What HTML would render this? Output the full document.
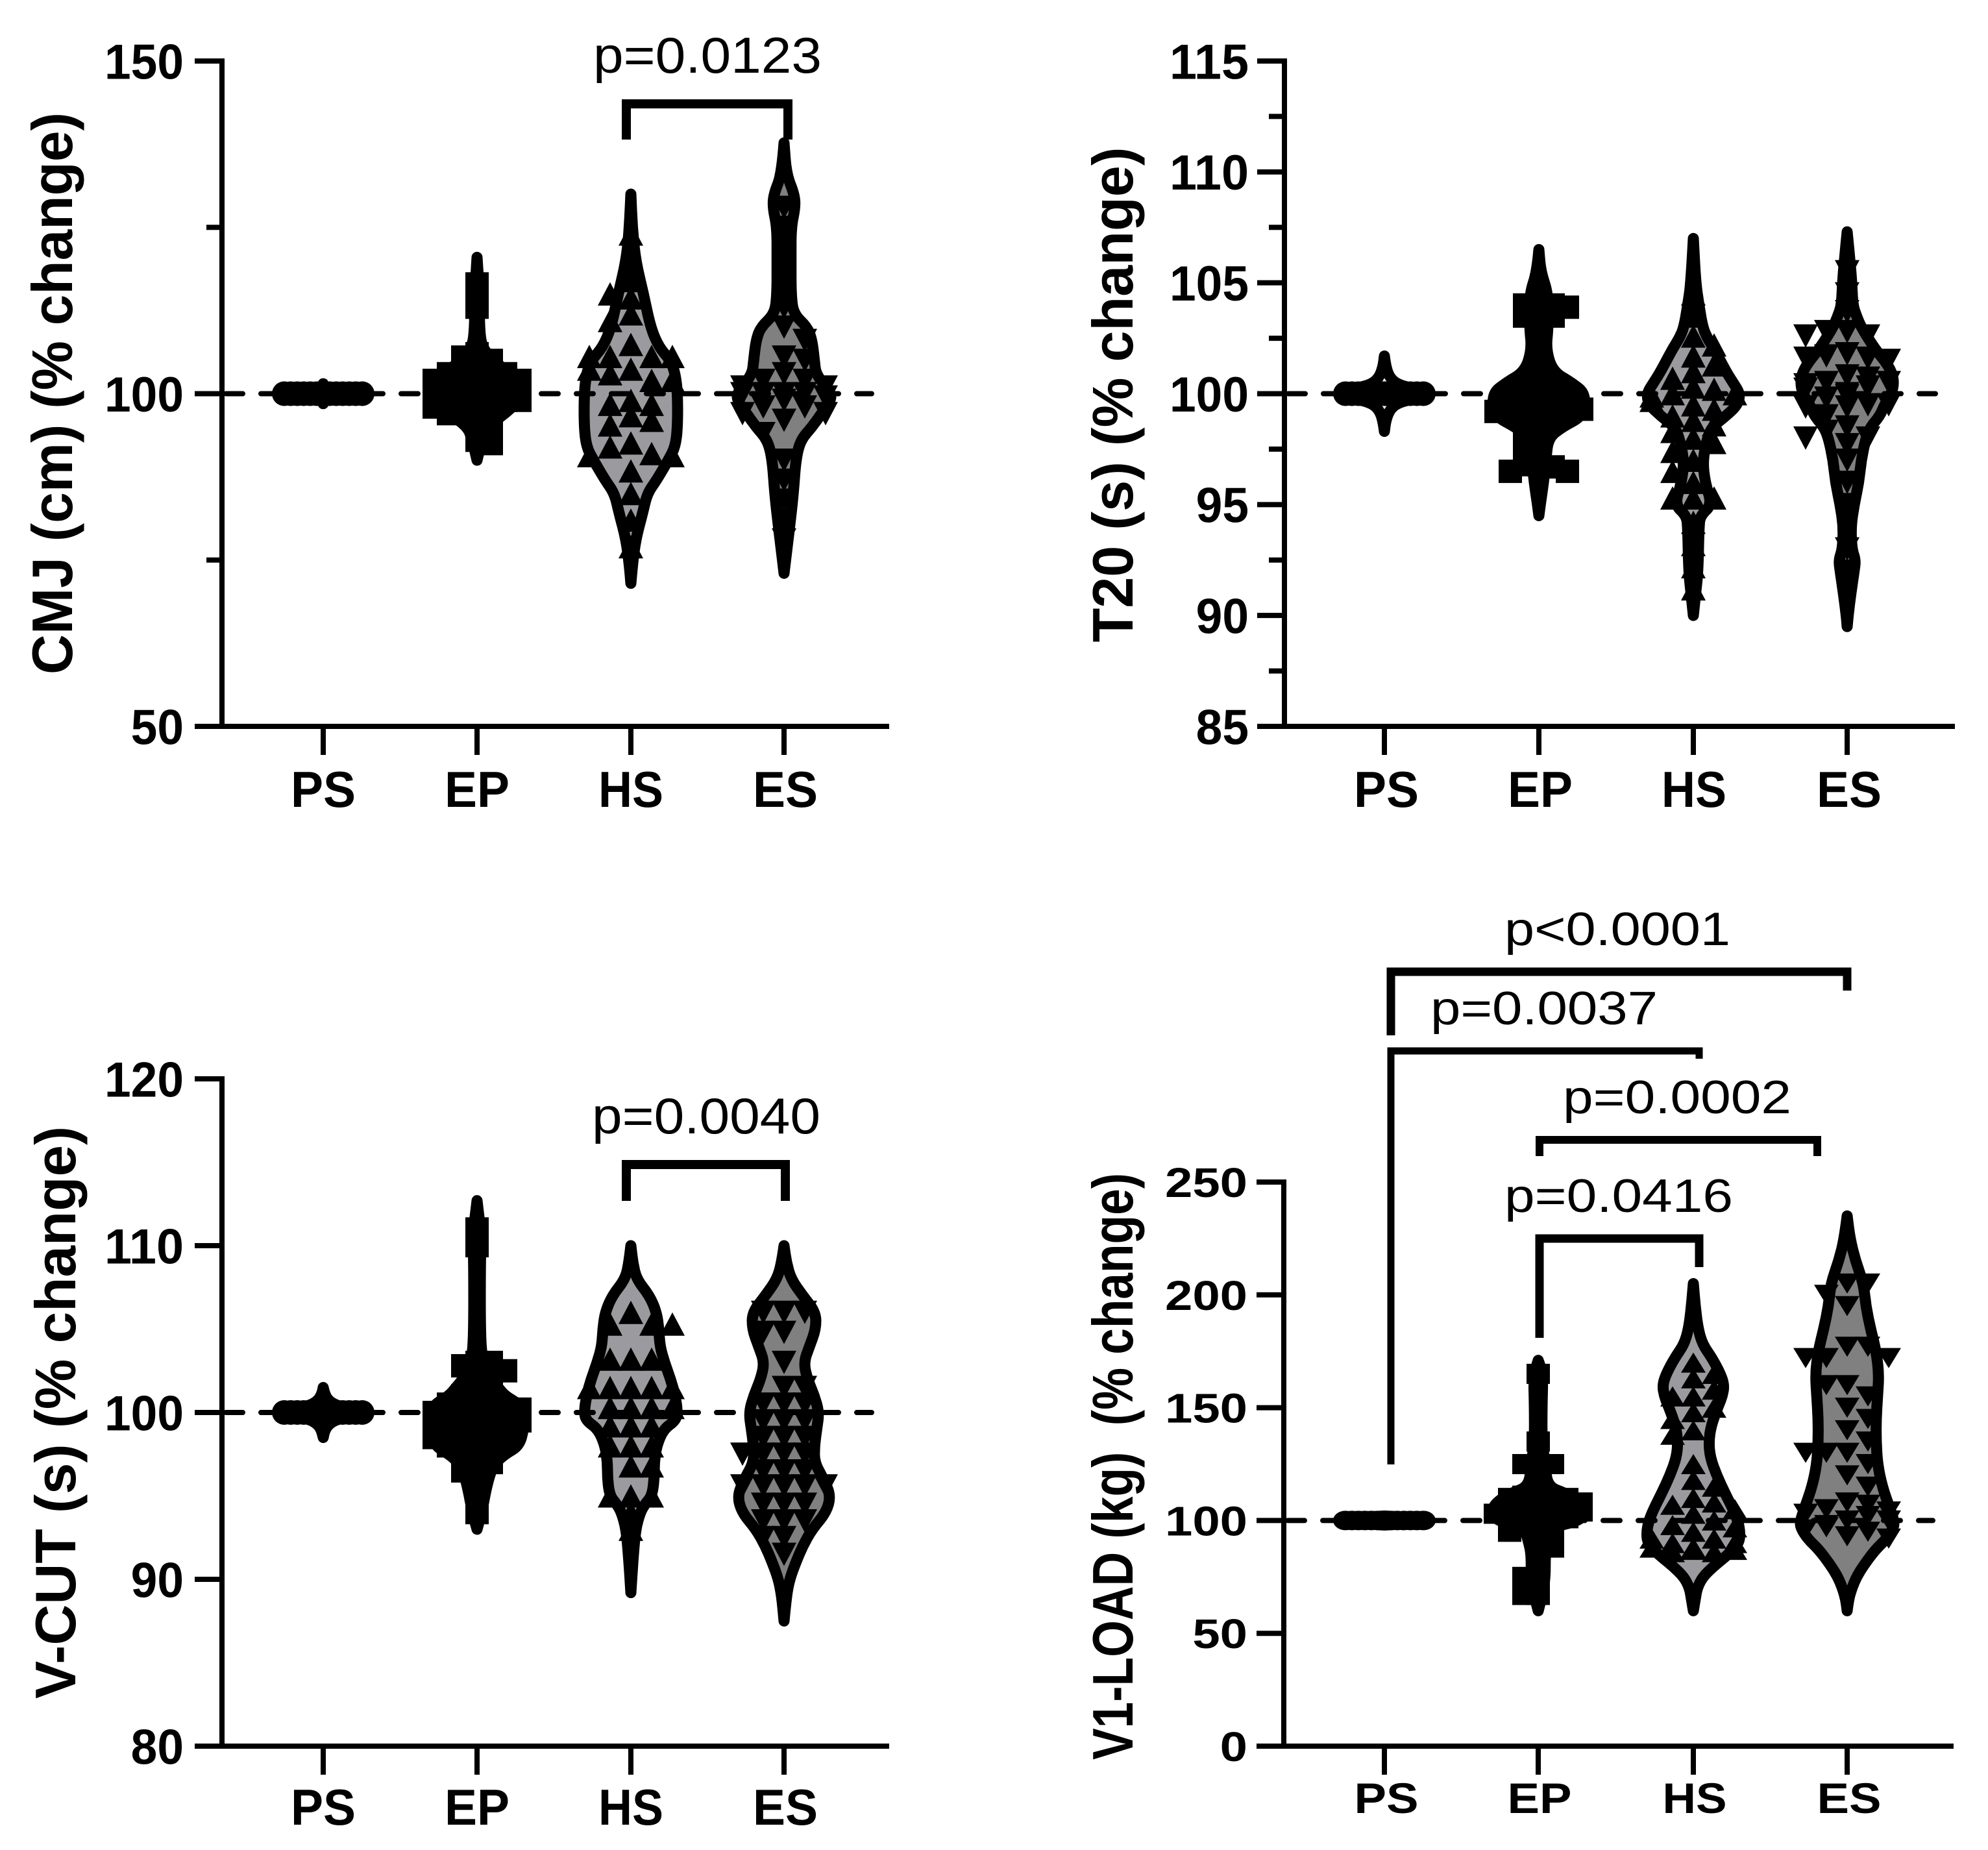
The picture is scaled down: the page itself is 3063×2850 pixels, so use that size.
<!DOCTYPE html>
<html lang="en">
<head>
<meta charset="utf-8">
<title>Violin plots of percent change</title>
<style>
html,body{margin:0;padding:0;background:#fff;}
svg{display:block;}
text{font-family:"Liberation Sans",sans-serif;fill:#000;}
.bold{font-weight:700;}
.br{fill:none;stroke:#000;stroke-linejoin:miter;stroke-linecap:butt;}
</style>
</head>
<body>
<svg id="figure" xmlns="http://www.w3.org/2000/svg" width="3063" height="2850" viewBox="0 0 3063 2850">
<rect width="3063" height="2850" fill="#fff"/>

<g>
<path class="br" stroke-width="14" d="M965 215V160H1214V215"/>
<text x="1090" y="112" font-size="78" text-anchor="middle" textLength="352" lengthAdjust="spacingAndGlyphs">p=0.0123</text>
</g>
<g>
<path class="br" stroke-width="14" d="M965 1850V1794H1210V1850"/>
<text x="1088" y="1746" font-size="78" text-anchor="middle" textLength="352" lengthAdjust="spacingAndGlyphs">p=0.0040</text>
</g>
<g>
<path class="br" stroke-width="13" d="M2143 1595V1497H2846V1526"/>
<text x="2492" y="1456" font-size="72" text-anchor="middle" textLength="348" lengthAdjust="spacingAndGlyphs">p&lt;0.0001</text>
<path class="br" stroke-width="11" d="M2143 2256V1619H2618V1631"/>
<text x="2379" y="1578" font-size="72" text-anchor="middle" textLength="350" lengthAdjust="spacingAndGlyphs">p=0.0037</text>
<path class="br" stroke-width="12" d="M2372 1781V1756H2800V1781"/>
<text x="2584" y="1715" font-size="72" text-anchor="middle" textLength="352" lengthAdjust="spacingAndGlyphs">p=0.0002</text>
<path class="br" stroke-width="13" d="M2372 2061V1908H2618V1952"/>
<text x="2494" y="1867" font-size="72" text-anchor="middle" textLength="352" lengthAdjust="spacingAndGlyphs">p=0.0416</text>
</g>
</svg>
<script>
// ---------- shared categories ----------
const categories = ["PS","EP","HS","ES"];

// ---------- axis ticks ----------
const cmjTicks = [50,100,150];
const cmjMinorTicks = [75,125];
const t20Ticks = [85,90,95,100,105,110,115];
const t20MinorTicks = [87.5,92.5,97.5,102.5,107.5,112.5];
const vcutTicks = [80,90,100,110,120];
const vcutMinorTicks = [];
const v1loadTicks = [0,50,100,150,200,250];
const v1loadMinorTicks = [];

// ---------- CMJ ----------
const cmjPsValues = [100,100,100,100,100,100,100,100,100,100,100,100,100,100];
const cmjPsLevels = [98.5,99.4,99.8,100,100.2,100.6,101.5];
const cmjPsDensity = [0,.03,.6,1,.6,.03,0];
const cmjEpValues = [116.5,114.5,113,106,105.5,105,104,104,103,103,103,102,102,102,102,101,101,101,100.5,100,100,100,100,100,99,99,99,99,98,98,98,97,97,96,95,94,93,92.5];
const cmjEpLevels = [120.5,115,110,107,105,103,101,100,99,97,95,93,90];
const cmjEpDensity = [0,.05,.05,.1,.35,.7,1,1,.9,.6,.2,.1,0];
const cmjHsValues = [124,120,117,114.4,115,112,111,107.4,105.6,105.6,105.6,105.6,103.7,103.7,103,102,102,99,98.4,98.4,96.7,96,95.3,92.6,92,91,90.7,90.7,88.4,85,81,77];
const cmjHsLevels = [130,125,120,115,110,107,105,103,100,95,92,90,87,85,82,78,74,71.5];
const cmjHsDensity = [0,.03,.1,.27,.42,.6,.85,.95,1,1,.95,.8,.55,.35,.25,.1,.03,0];
const cmjEsValues = [128,125,122,119,116,113,110,108,105.5,105,103,102,102,101,101,100,100,100,100,99.5,99,98,98,97,97,96,94,90,87,84,81,78];
const cmjEsLevels = [137.7,133,130,128,125,120,115,112,110,108,105,103,101,100,99,97,95,93,90,85,80,76,73];
const cmjEsDensity = [0,.05,.22,.24,.15,.15,.15,.2,.5,.6,.65,.68,.9,1,1,.8,.6,.35,.25,.2,.12,.05,0];

// ---------- T20 ----------
const t20PsValues = [100,100,100,100,100,100,100,100,100,100,100,100,100,100];
const t20PsLevels = [98.3,98.8,99.3,99.6,99.8,100,100.2,100.4,100.7,101.2,101.7];
const t20PsDensity = [0,.03,.12,.3,.7,1,.7,.3,.12,.03,0];
const t20EpValues = [104.2,104,104,103.9,103.6,103.5,103.5,102.8,102,101.5,100.5,100.2,100,100,100,99.8,99.5,99.5,99.5,99.4,99.4,99.3,99.2,99,98.7,98.3,98,97.5,97.3,96.8,96.8,96.7,96.5,96.5];
const t20EpLevels = [106.5,105.5,104.5,103,102,101,100.5,100,99,98.5,98,97,96,95,94.5];
const t20EpDensity = [0,.04,.2,.2,.15,.3,.7,1,.95,.5,.2,.15,.1,.03,0];
const t20HsValues = [104.5,103.5,102.6,102.2,101.7,101.3,101,100.7,100.3,100.2,100,100,99.9,99.7,99.5,99.3,99,98.8,98.6,98.3,98,97.8,97.4,97,96.5,96,95.3,95.3,95.3,94.2,93.2,92.2,91.2];
const t20HsLevels = [107,105,104,103,102.5,102,101,100.5,100,99.5,99,98.5,98,97,96,95,94.5,94,92,91,90];
const t20HsDensity = [0,.05,.12,.2,.3,.45,.7,.85,1,.95,.7,.4,.3,.2,.25,.4,.15,.12,.1,.05,0];
const t20EsValues = [105.5,104.5,103.7,102.8,102.8,102.6,102.6,101.8,101.7,101.6,101.6,101.5,100.8,100.7,100.5,100.5,100.4,100.3,100.2,100,99.9,99.8,99.5,99.5,99.4,99.4,99,98.5,98.3,98,98,97.7,97,96,95,93,92];
const t20EsLevels = [107.3,106,105,104,103.5,103,102,101.5,101,100.5,100,99.5,99,98.5,98,97,96,95,94,93,92.5,92,91,90,89.5];
const t20EsDensity = [0,.06,.1,.12,.2,.3,.6,.8,.95,1,.95,.8,.7,.5,.4,.3,.25,.15,.08,.1,.18,.15,.08,.02,0];

// ---------- V-CUT ----------
const vcutPsValues = [100,100,100,100,100,100,100,100,100,100,100,100,100,100];
const vcutPsLevels = [98.5,98.9,99.3,99.6,99.8,100,100.2,100.4,100.7,101.1,101.5];
const vcutPsDensity = [0,.03,.12,.3,.7,1,.7,.3,.12,.03,0];
const vcutEpValues = [111,110,103,103,102.8,102.5,102.3,102,101.5,101,101,100.8,100.5,100.3,100.2,100.2,100.2,100.2,100,100,100,100,99.8,99.5,99.5,99.5,99.5,99.5,99,99,99,99,99,98.8,98.5,98.3,98,98,98,97.5,97.3,97,96.8,96.5,95,94];
const vcutEpLevels = [112.7,111.5,110.5,109.5,104,103,102,101.5,101,100.5,100,99,98,97.5,97,96.5,95.5,94,93];
const vcutEpDensity = [0,.05,.1,.07,.07,.15,.3,.45,.6,.9,1,1,.9,.6,.4,.3,.2,.1,0];
const vcutHsValues = [106,105.3,105.3,105.3,103.2,103.2,103.2,101.5,101.5,101.5,101.5,101.5,100.3,100.3,100.3,100.3,99.2,99.2,99.2,98,98,98,96.8,96.8,95,95,95,94,93];
const vcutHsLevels = [110,109,108,107,106,105,104,103,102,101,100,99.5,99,98,97,96,95,94.5,94,93,91,89.2];
const vcutHsDensity = [0,.04,.12,.4,.55,.6,.62,.72,.85,.95,1,.95,.7,.55,.5,.5,.45,.3,.2,.1,.04,0];
const vcutEsValues = [106,106,106,104.8,104.8,103,101.5,101.5,100.5,100.5,100.5,99.5,99.5,99.5,98.5,98.5,98.5,97.5,97.5,97.5,97.5,96.5,96.5,96.5,95.6,95.6,95.6,95.6,95.6,94.5,94.5,94.5,93.5,93.5,93.5,92.5,92.5,91.5];
const vcutEsLevels = [110,109,108,107,106,105,104,103,102,101,100,99,98,97,96,95,94,93,92,91,90,89,87.5];
const vcutEsDensity = [0,.05,.15,.4,.68,.68,.55,.42,.5,.65,.75,.7,.65,.65,.85,1,.9,.6,.4,.25,.12,.05,0];

// ---------- V1-LOAD ----------
const v1loadPsValues = [100,100,100,100,100,100,100,100,100,100,100,100,100,100];
const v1loadPsLevels = [98,99,100,101,102];
const v1loadPsDensity = [0,.9,1,.9,0];
const v1loadEpValues = [165,135,125,125,125,112,111,110,110,110,108,108,107,106,105,105,104,104,103,103,102,101,100,98,97,96,95,93,91,88,85,75,75,67,67];
const v1loadEpLevels = [171,165,150,135,125,115,112,108,104,100,97,90,85,75,68,60];
const v1loadEpDensity = [0,.1,.08,.08,.15,.2,.6,.9,1,.9,.3,.2,.15,.15,.1,0];
const v1loadHsValues = [170,165,163,158,155,155,150,148,145,140,138,125,118,115,110,108,107,105,103,100,98,97,95,92,92,90,90,88,88,87,87,86,86];
const v1loadHsLevels = [205,195,185,178,172,165,160,155,150,142,135,128,120,112,105,100,95,90,85,80,75,70,65,60];
const v1loadHsDensity = [0,.04,.1,.2,.4,.58,.66,.62,.52,.38,.33,.36,.5,.68,.85,.95,1,.98,.75,.45,.2,.08,.04,0];
const v1loadEsValues = [205,205,200,195,177,177,172,172,172,160,160,155,150,145,140,135,130,130,130,125,120,115,108,107,105,104,103,102,100,100,98,97,96,95,93,92];
const v1loadEsLevels = [235,225,215,205,195,185,175,165,155,145,135,125,115,105,100,97,92,87,80,75,70,65,60];
const v1loadEsDensity = [0,.06,.18,.35,.4,.5,.62,.68,.65,.62,.62,.65,.75,.92,1,1,.85,.6,.35,.2,.1,.03,0];

// ---------- panel layout ----------
const NS = "http://www.w3.org/2000/svg";
const fig = document.getElementById("figure");

function mk(parent, tag, attrs){
  const el = document.createElementNS(NS, tag);
  for (const k in attrs) el.setAttribute(k, attrs[k]);
  parent.appendChild(el);
  return el;
}

const panels = [
 {id:"cmj", title:"CMJ (cm) (% change)", ticks:cmjTicks, minor:cmjMinorTicks, min:50, max:150,
  top:94, bottom:1119, axisX:342, right:1370, catX:[498,735,972,1208], labelX:[498,735,972,1210],
  tickRight:283, tickFs:76, tickW:122, xLabelY:1243, xFs:78, labelW:100,
  titleX:111, titleY:606, titleLen:866, refEnd:1343, markH:36, circRy:19,
  violins:[[cmjPsValues,cmjPsLevels,cmjPsDensity],[cmjEpValues,cmjEpLevels,cmjEpDensity],[cmjHsValues,cmjHsLevels,cmjHsDensity],[cmjEsValues,cmjEsLevels,cmjEsDensity]]},
 {id:"t20", title:"T20 (s) (% change)", ticks:t20Ticks, minor:t20MinorTicks, min:85, max:115,
  top:94, bottom:1119, axisX:1979, right:3012, catX:[2133,2371,2609,2846], labelX:[2136,2373,2610,2849],
  tickRight:1924, tickFs:76, tickW:122, xLabelY:1243, xFs:78, labelW:100,
  titleX:1745, titleY:608, titleLen:763, refEnd:2982, markH:36, circRy:19,
  violins:[[t20PsValues,t20PsLevels,t20PsDensity],[t20EpValues,t20EpLevels,t20EpDensity],[t20HsValues,t20HsLevels,t20HsDensity],[t20EsValues,t20EsLevels,t20EsDensity]]},
 {id:"vcut", title:"V-CUT (s) (% change)", ticks:vcutTicks, minor:vcutMinorTicks, min:80, max:120,
  top:1662, bottom:2690, axisX:342, right:1370, catX:[498,735,972,1208], labelX:[498,735,972,1210],
  tickRight:283, tickFs:76, tickW:122, xLabelY:2811, xFs:78, labelW:100,
  titleX:116, titleY:2176, titleLen:882, refEnd:1343, markH:36, circRy:19,
  violins:[[vcutPsValues,vcutPsLevels,vcutPsDensity],[vcutEpValues,vcutEpLevels,vcutEpDensity],[vcutHsValues,vcutHsLevels,vcutHsDensity],[vcutEsValues,vcutEsLevels,vcutEsDensity]]},
 {id:"v1load", title:"V1-LOAD (kg)\u00a0\u00a0(% change)", ticks:v1loadTicks, minor:v1loadMinorTicks, min:0, max:250,
  top:1821, bottom:2690, axisX:1978, right:3010, catX:[2133,2370,2609,2846], labelX:[2136,2372,2611,2849],
  tickRight:1922, tickFs:64, tickW:127, xLabelY:2793, xFs:66, labelW:99,
  titleX:1745, titleY:2259, titleLen:904, refEnd:2978, markH:31, circRy:15,
  violins:[[v1loadPsValues,v1loadPsLevels,v1loadPsDensity],[v1loadEpValues,v1loadEpLevels,v1loadEpDensity],[v1loadHsValues,v1loadHsLevels,v1loadHsDensity],[v1loadEsValues,v1loadEsLevels,v1loadEsDensity]]}
];

const groupStyles = [
 {fill:"#fff",    slotW:10, maxSlot:6, rowGap:4},
 {fill:"#000",    slotW:22, maxSlot:3, rowGap:13},
 {fill:"#9b9b9f", slotW:32, maxSlot:2, rowGap:22},
 {fill:"#808080", slotW:32, maxSlot:2, rowGap:22}
];
const maxHalf = 72;

function swarm(values, st, yOf){
  const placed = [];
  const order = [0];
  for (let k = 1; k <= st.maxSlot; k++){ order.push(-k); order.push(k); }
  return values.map(function(v, i){
    const y = yOf(v);
    const flip = i % 2 === 0 ? 1 : -1;
    let slot = null;
    for (const k0 of order){
      const k = k0 * flip;
      const hit = placed.some(function(p){ return p.k === k && Math.abs(p.y - y) < st.rowGap; });
      if (!hit){ slot = k; break; }
    }
    if (slot === null) slot = order[i % order.length];
    placed.push({k:slot, y:y});
    return {dx:slot * st.slotW, y:y};
  });
}

function smooth(pts){
  let d = "M" + pts[0][0] + " " + pts[0][1];
  for (let i = 1; i < pts.length - 1; i++){
    const mx = (pts[i][0] + pts[i+1][0]) / 2;
    const my = (pts[i][1] + pts[i+1][1]) / 2;
    d += "Q" + pts[i][0] + " " + pts[i][1] + " " + mx + " " + my;
  }
  const last = pts[pts.length-1];
  return d + "L" + last[0] + " " + last[1];
}

panels.forEach(function(p){
  const g = mk(fig, "g", {});
  
  
  const yOf = function(v){ return p.bottom - (v - p.min) / (p.max - p.min) * (p.bottom - p.top); };
  const y100 = yOf(100);

  p.violins.forEach(function(vv, gi){
    const cx = p.catX[gi];
    const st = groupStyles[gi];
    const name = categories[gi].toLowerCase();
    const vg = mk(g, "g", {});
    
    
    const leftPts = vv[1].map(function(l, i){ return [cx - vv[2][i] * maxHalf, yOf(l)]; });
    const rightPts = vv[1].map(function(l, i){ return [cx + vv[2][i] * maxHalf, yOf(l)]; }).reverse();
    const d = smooth(leftPts) + smooth(rightPts).replace(/^M[^Q]*/, "L" + rightPts[0][0] + " " + rightPts[0][1]) + "Z";
    const path = mk(vg, "path", {d:d, fill:st.fill, stroke:"#000", "stroke-width":17, "stroke-linejoin":"round"});
    
    
    const cats = swarm(vv[0], st, yOf);
    cats.forEach(function(c){
      const x = cx + c.dx;
      const y = c.y;
      let m;
      const h = p.markH;
      if (gi === 0){
        m = mk(vg, "ellipse", {cx:x, cy:y, rx:19, ry:p.circRy, fill:"#000"});
      } else if (gi === 1){
        m = mk(vg, "rect", {x:x - 18, y:y - h / 2, width:36, height:h, fill:"#000"});
      } else if (gi === 2){
        m = mk(vg, "polygon", {points:(x - 19) + "," + (y + h / 2) + " " + (x + 19) + "," + (y + h / 2) + " " + x + "," + (y - h / 2), fill:"#000"});
      } else {
        m = mk(vg, "polygon", {points:(x - 19) + "," + (y - h / 2) + " " + (x + 19) + "," + (y - h / 2) + " " + x + "," + (y + h / 2), fill:"#000"});
      }
      
      
    });
  });

  const ref = mk(g, "line", {x1:p.axisX + 6, y1:y100, x2:p.refEnd, y2:y100, stroke:"#000", "stroke-width":8, "stroke-dasharray":"26 28", "stroke-linecap":"round"});
  
  

  const yAxis = mk(g, "line", {x1:p.axisX, y1:p.top - 4, x2:p.axisX, y2:p.bottom + 4, stroke:"#000", "stroke-width":8});
  
  
  const xAxis = mk(g, "line", {x1:p.axisX - 42, y1:p.bottom, x2:p.right, y2:p.bottom, stroke:"#000", "stroke-width":8});
  
  

  p.ticks.forEach(function(t){
    const y = yOf(t);
    const tk = mk(g, "line", {x1:p.axisX - 42, y1:y, x2:p.axisX, y2:y, stroke:"#000", "stroke-width":8});
    
    
    const attrs = {x:p.tickRight, y:y + p.tickFs * 0.36, "text-anchor":"end", "font-size":p.tickFs, "class":"bold"};
    attrs.textLength = p.tickW * String(t).length / 3;
    attrs.lengthAdjust = "spacingAndGlyphs";
    const lb = mk(g, "text", attrs);
    lb.textContent = String(t);
    
    
  });
  p.minor.forEach(function(t){
    const y = yOf(t);
    const tk = mk(g, "line", {x1:p.axisX - 24, y1:y, x2:p.axisX, y2:y, stroke:"#000", "stroke-width":8});
    
    
  });
  categories.forEach(function(c, i){
    const x = p.catX[i];
    const tk = mk(g, "line", {x1:x, y1:p.bottom, x2:x, y2:p.bottom + 44, stroke:"#000", "stroke-width":8});
    
    
    const lb = mk(g, "text", {x:p.labelX[i], y:p.xLabelY, "text-anchor":"middle", "font-size":p.xFs, "class":"bold", textLength:p.labelW, lengthAdjust:"spacingAndGlyphs"});
    lb.textContent = c;
    
    
  });
  const title = mk(g, "text", {transform:"translate(" + p.titleX + " " + p.titleY + ") rotate(-90)", "text-anchor":"middle", "font-size":88, "class":"bold", textLength:p.titleLen, lengthAdjust:"spacingAndGlyphs"});
  title.textContent = p.title;
  
  
});
</script>
</body>
</html>
